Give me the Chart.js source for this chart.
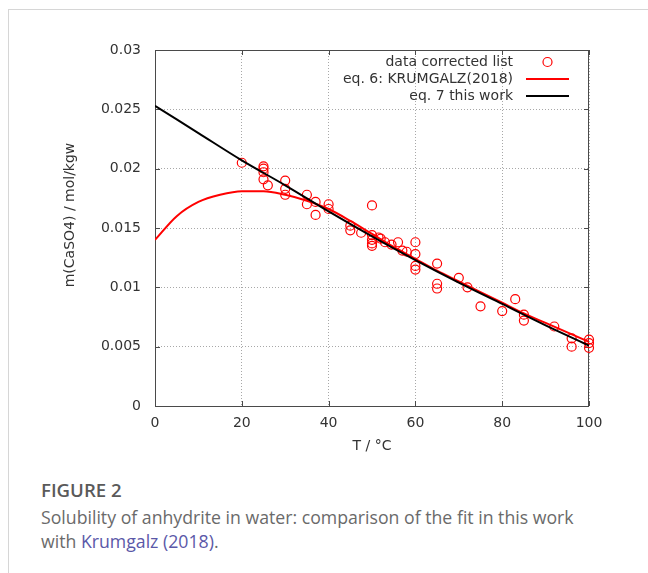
<!DOCTYPE html>
<html>
<head>
<meta charset="utf-8">
<script src="https://cdn.jsdelivr.net/npm/chart.js@4/dist/chart.umd.min.js"></script>
<style>
  html, body { margin: 0; padding: 0; background: #fff; }
  body { width: 648px; height: 573px; position: relative; overflow: hidden; }
  .card { position: absolute; left: 8px; top: 9px; width: 660px; height: 600px;
          border-top: 1px solid #d6d6d6; border-left: 1px solid #d6d6d6; }
  #wrap { position: absolute; left: 0; top: 0; width: 648px; height: 460px; }
  .fig { position: absolute; left: 41px; top: 477px; font-family: "Open Sans", sans-serif;
         font-size: 18.6px; line-height: 26px; font-weight: 600; color: #5a5a5a; }
  .txt { position: absolute; left: 41px; top: 505px; width: 607px; font-family: "Open Sans", sans-serif;
         font-size: 17.7px; line-height: 24px; color: #6a6a6a; white-space: nowrap; }
  .txt a { color: #5a58a8; text-decoration: none; }
</style>
</head>
<body>
<div class="card"></div>
<div id="wrap"><canvas id="c" width="648" height="460"></canvas></div>
<div class="fig">FIGURE 2</div>
<div class="txt">Solubility of anhydrite in water: comparison of the fit in this work<br>with <a>Krumgalz (2018)</a>.</div>
<script>
// Measured anhydrite solubilities (T in °C, m in mol/kgw)
const tempC = [20, 25, 25, 25, 25, 26, 30, 30, 30, 35, 35, 37, 37, 40, 40,
               45, 45, 47.5, 50, 50, 50, 50, 50, 51.5, 52, 53, 54.5, 56, 57, 58,
               60, 60, 60, 60, 65, 65, 65, 70, 72, 75, 80, 83, 85, 85, 92,
               96, 96, 100, 100, 100];
const molality = [0.0205, 0.0202, 0.0200, 0.0197, 0.0191, 0.0186, 0.0190, 0.0183, 0.0178, 0.0178, 0.0170, 0.0172, 0.0161, 0.0170, 0.0166,
                  0.0152, 0.0148, 0.0146, 0.0169, 0.0144, 0.0140, 0.0137, 0.0135, 0.0142, 0.0141, 0.0138, 0.0136, 0.0138, 0.0131, 0.0130,
                  0.0138, 0.0128, 0.0118, 0.0115, 0.0120, 0.0103, 0.0099, 0.0108, 0.0100, 0.0084, 0.0080, 0.0090, 0.0077, 0.0072, 0.0067,
                  0.0057, 0.0050, 0.0056, 0.0053, 0.0049];

// eq. 6: Krumgalz (2018)
const eq6T = [0, 5, 10, 15, 20, 25, 30, 35, 40, 45, 50, 55, 60, 65, 70, 75, 80, 85, 90, 95, 100];
const eq6M = [0.0140, 0.0160, 0.0172, 0.0178, 0.0181, 0.0181, 0.0178, 0.0173, 0.0166, 0.0156, 0.0145,
              0.0134, 0.0124, 0.0114, 0.0105, 0.0096, 0.0087, 0.0078, 0.0070, 0.0062, 0.0054];

// eq. 7: this work
const eq7T = [0, 10, 20, 30, 40, 50, 60, 70, 80, 90, 100];
const eq7M = [0.0253, 0.0230, 0.0207, 0.0186, 0.0164, 0.0143, 0.0123, 0.0104, 0.0086, 0.0068, 0.0051];

const xTickValues = [0, 20, 40, 60, 80, 100];
const yTickValues = [0, 0.005, 0.01, 0.015, 0.02, 0.025, 0.03];
const yTickLabels = ['0', '0.005', '0.01', '0.015', '0.02', '0.025', '0.03'];

const FONT = '"DejaVu Sans", sans-serif';
const TEXT = '#333';

const pairs = (xs, ys) => xs.map((x, i) => ({ x: x, y: ys[i] }));

// Frame with inward tick marks on all four sides, plus y title and key
const framePlugin = {
  id: 'frame',
  beforeDatasetsDraw(chart) {
    const { ctx, chartArea: a, scales: { x, y } } = chart;
    ctx.save();
    ctx.strokeStyle = '#4a4a4a';
    ctx.lineWidth = 1;
    ctx.strokeRect(a.left + 0.5, a.top + 0.5, a.right - a.left - 1, a.bottom - a.top);
    const tl = 5;
    ctx.beginPath();
    xTickValues.forEach(v => {
      const px = Math.round(x.getPixelForValue(v)) + 0.5;
      ctx.moveTo(px, a.bottom); ctx.lineTo(px, a.bottom - tl);
      ctx.moveTo(px, a.top); ctx.lineTo(px, a.top + tl);
    });
    yTickValues.forEach(v => {
      const py = Math.round(y.getPixelForValue(v)) + 0.5;
      ctx.moveTo(a.left, py); ctx.lineTo(a.left + tl, py);
      ctx.moveTo(a.right, py); ctx.lineTo(a.right - tl, py);
    });
    ctx.stroke();
    ctx.restore();
  },
  afterDraw(chart) {
    const { ctx, chartArea: a } = chart;
    ctx.save();
    ctx.font = '14px ' + FONT;
    ctx.fillStyle = TEXT;
    ctx.textAlign = 'center';
    ctx.textBaseline = 'middle';
    ctx.translate(70, 215);
    ctx.rotate(-Math.PI / 2);
    ctx.fillText('m(CaSO4) / mol/kgw', 0, 0);
    ctx.restore();

    ctx.save();
    ctx.font = '14px ' + FONT;
    ctx.fillStyle = TEXT;
    ctx.textAlign = 'right';
    ctx.textBaseline = 'middle';
    const textRight = a.right - 76;
    const sx0 = a.right - 63, sx1 = a.right - 20;
    chart.data.datasets.forEach((ds, i) => {
      const yy = a.top + 12 + i * 17;
      ctx.fillText(ds.label, textRight, yy);
      ctx.strokeStyle = ds.borderColor;
      if (ds.showLine) {
        ctx.lineWidth = 2;
        ctx.beginPath();
        ctx.moveTo(sx0, yy); ctx.lineTo(sx1, yy);
        ctx.stroke();
      } else {
        ctx.lineWidth = 1.2;
        ctx.beginPath();
        ctx.arc((sx0 + sx1) / 2, yy, 4.5, 0, Math.PI * 2);
        ctx.stroke();
      }
    });
    ctx.restore();
  }
};

new Chart(document.getElementById('c'), {
  type: 'scatter',
  data: {
    datasets: [
      {
        label: 'data corrected list',
        data: pairs(tempC, molality),
        showLine: false,
        borderColor: '#ff0000',
        backgroundColor: 'rgba(0,0,0,0)',
        pointRadius: 4.5,
        pointBorderWidth: 1.2,
        pointHoverRadius: 4.5,
        clip: false,
        order: 3
      },
      {
        label: 'eq. 6: KRUMGALZ(2018)',
        data: pairs(eq6T, eq6M),
        showLine: true,
        borderColor: '#ff0000',
        borderWidth: 2,
        pointRadius: 0,
        cubicInterpolationMode: 'monotone',
        order: 2
      },
      {
        label: 'eq. 7 this work',
        data: pairs(eq7T, eq7M),
        showLine: true,
        borderColor: '#000000',
        borderWidth: 2,
        pointRadius: 0,
        cubicInterpolationMode: 'monotone',
        order: 1
      }
    ]
  },
  options: {
    responsive: false,
    animation: false,
    events: [],
    layout: { padding: { left: 0, top: 50, right: 59, bottom: 0 } },
    plugins: { legend: { display: false }, tooltip: { enabled: false } },
    scales: {
      x: {
        type: 'linear', min: 0, max: 100,
        afterBuildTicks: s => { s.ticks = xTickValues.map(v => ({ value: v })); },
        afterFit: s => { s.height = 54; },
        grid: { color: '#a8a8a8', lineWidth: 1, drawTicks: false },
        border: { display: false, dash: [1, 2] },
        ticks: { color: TEXT, font: { family: FONT, size: 14 }, padding: 9, maxRotation: 0,
                 callback: v => String(v) },
        title: { display: true, text: 'T / °C', color: TEXT, font: { family: FONT, size: 14 },
                 padding: { top: 0, bottom: 5 } }
      },
      y: {
        type: 'linear', min: 0, max: 0.03,
        afterBuildTicks: s => { s.ticks = yTickValues.map(v => ({ value: v })); },
        afterFit: s => { s.width = 155; },
        grid: { color: '#a8a8a8', lineWidth: 1, drawTicks: false },
        border: { display: false, dash: [1, 2] },
        ticks: { color: TEXT, font: { family: FONT, size: 14 }, padding: 14,
                 callback: (v, i) => yTickLabels[i] }
      }
    }
  },
  plugins: [framePlugin]
});
</script>
</body>
</html>
